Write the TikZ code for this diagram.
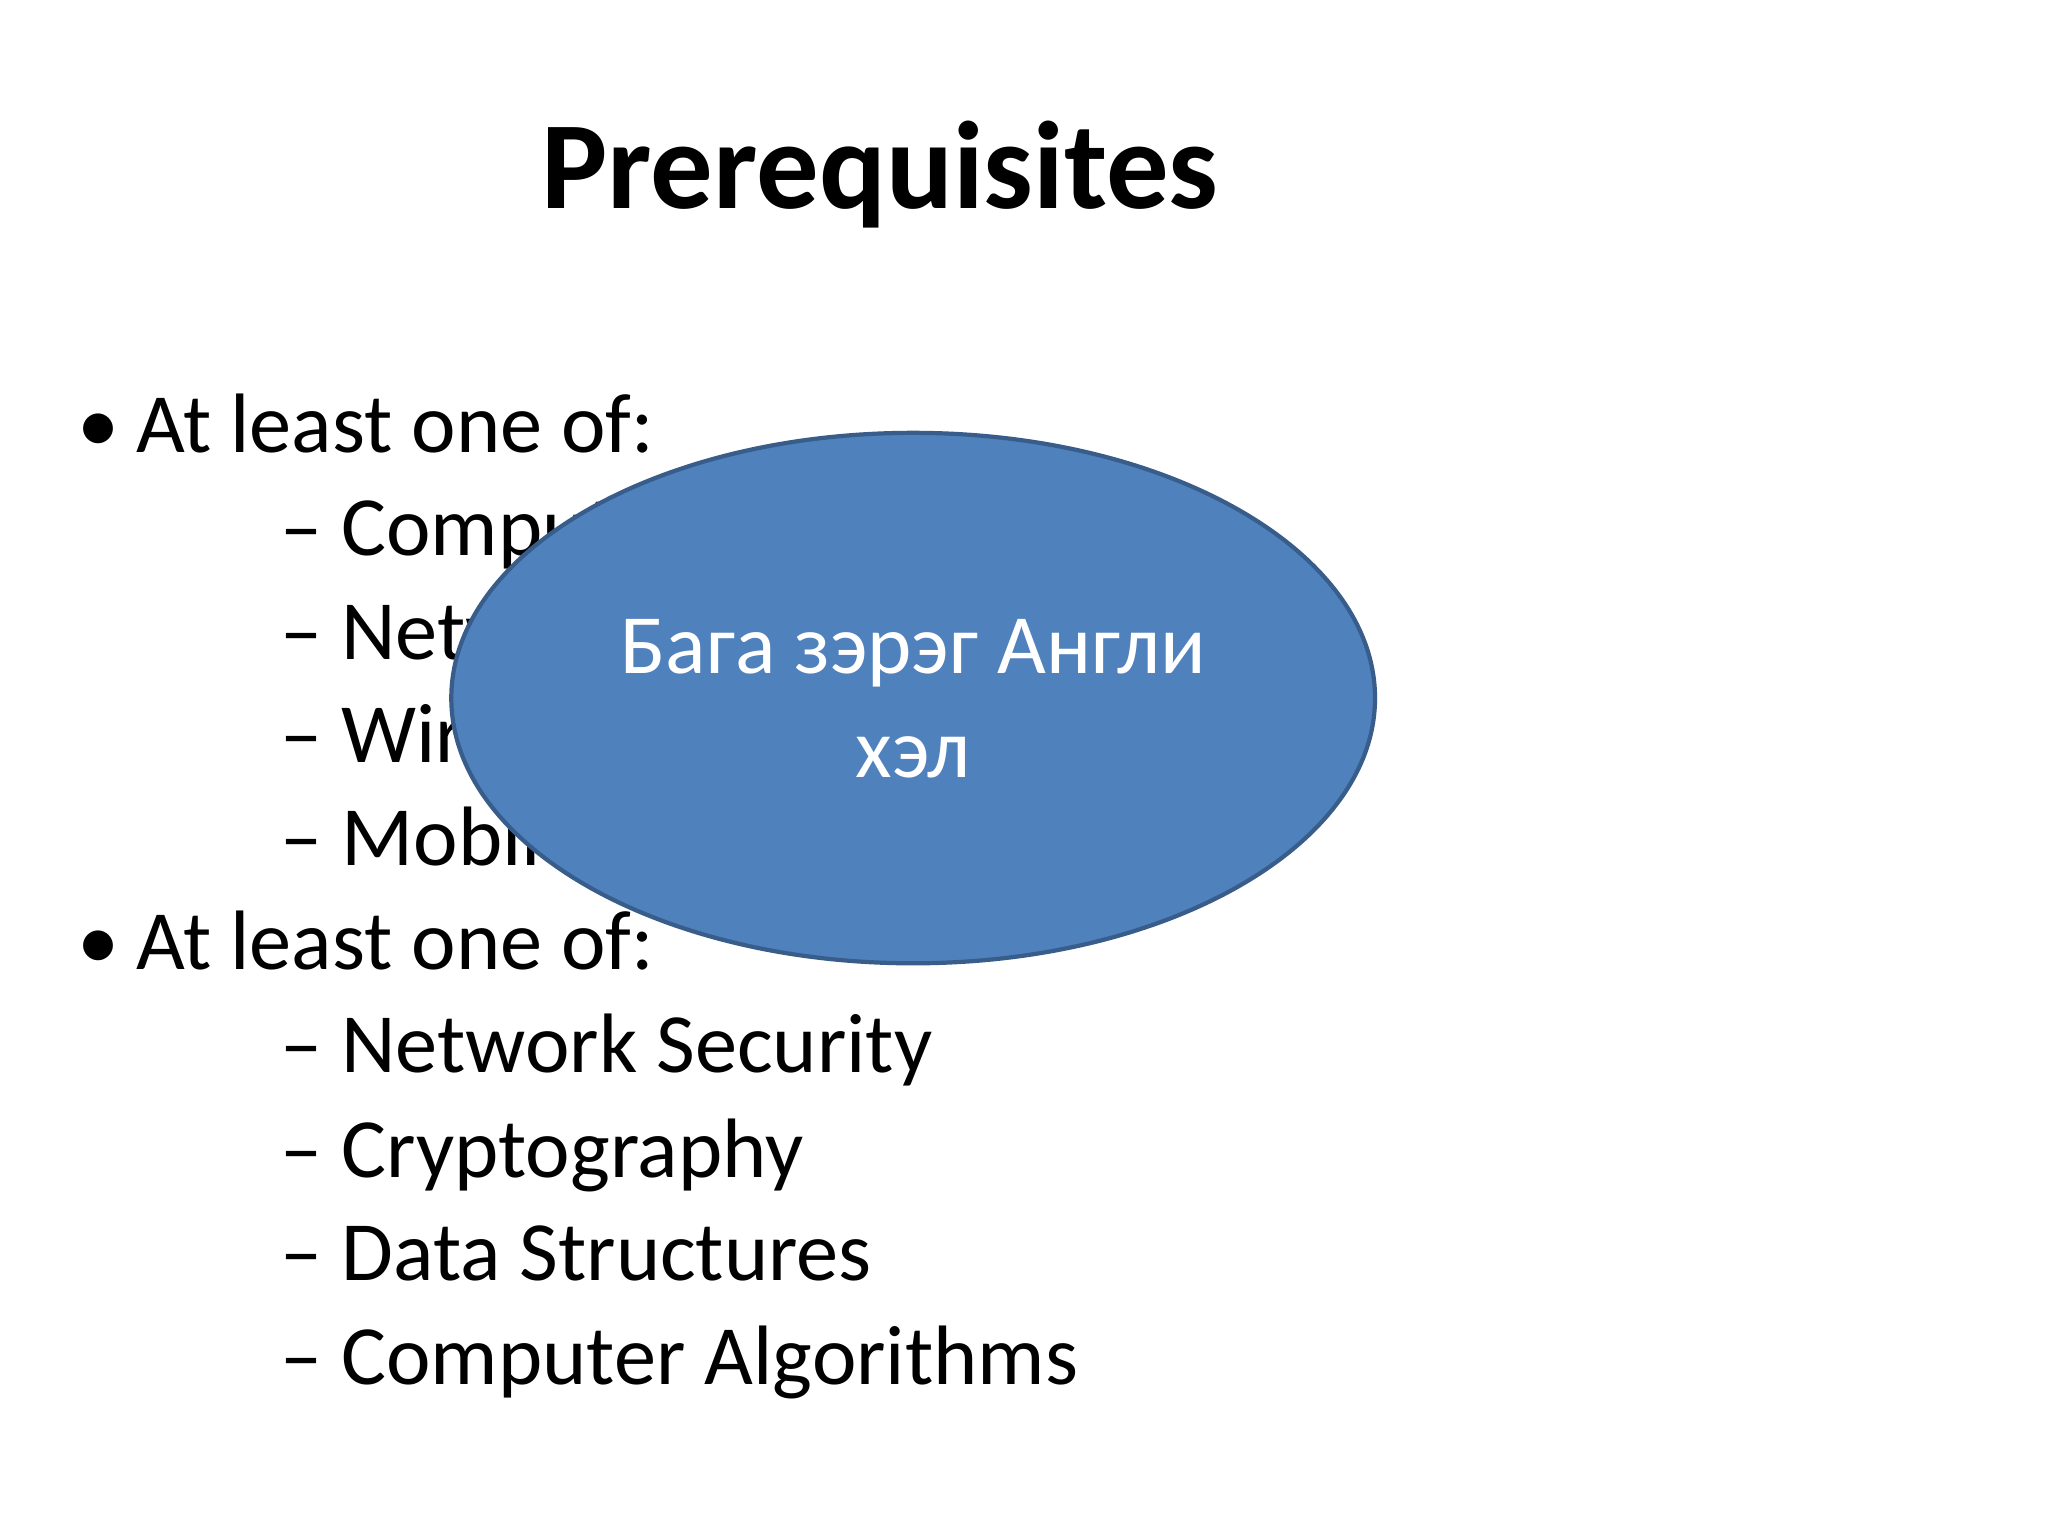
\documentclass[tikz,border=0pt]{standalone}
\usepackage{fontspec}
\setmainfont{Carlito}
\usetikzlibrary{shapes.geometric}
\definecolor{ellfill}{HTML}{4F81BD}
\definecolor{elldraw}{HTML}{385D8A}
\begin{document}
\begin{tikzpicture}[x=0.013196cm,y=-0.013196cm,
  body/.style={anchor=base west,inner sep=0pt,font=\fontsize{24}{29}\selectfont},
  blt/.style={anchor=base west,inner sep=0pt,font=\fontsize{24}{29}\selectfont}]
\useasboundingbox[fill=white] (0,0) rectangle (1552,1164);
\node[anchor=base,inner sep=0pt,font=\fontsize{35.5}{42}\selectfont\bfseries] (title) at (667,158) {Prerequisites};
\node[blt] (b1) at (58,343) {•};
\node[body] (t1) at (103,343) {At least one of:};
\node[body] (s1) at (212,421) {– Computer Networks};
\node[body] (s2) at (212,500) {– Networking (TCP/IP, Internet)};
\node[body] (s3) at (212,578) {– Wireless Networks};
\node[body] (s4) at (212,656) {– Mobile Computing};
\node[blt] (b2) at (58,735) {•};
\node[body] (t2) at (103,735) {At least one of:};
\node[body] (s5) at (212,813) {– Network Security};
\node[body] (s6) at (212,892) {– Cryptography};
\node[body] (s7) at (212,970) {– Data Structures};
\node[body] (s8) at (212,1049) {– Computer Algorithms};
\node[ellipse,fill=ellfill,draw=elldraw,line width=1.2pt,minimum width=700*0.013196cm,minimum height=402*0.013196cm,inner sep=0pt] (ell) at (692,529) {};
\node[body,anchor=base,text=white] (e1) at (692,510) {Бага зэрэг Англи};
\node[body,anchor=base,text=white] (e2) at (692,589) {хэл};
\end{tikzpicture}
\end{document}
